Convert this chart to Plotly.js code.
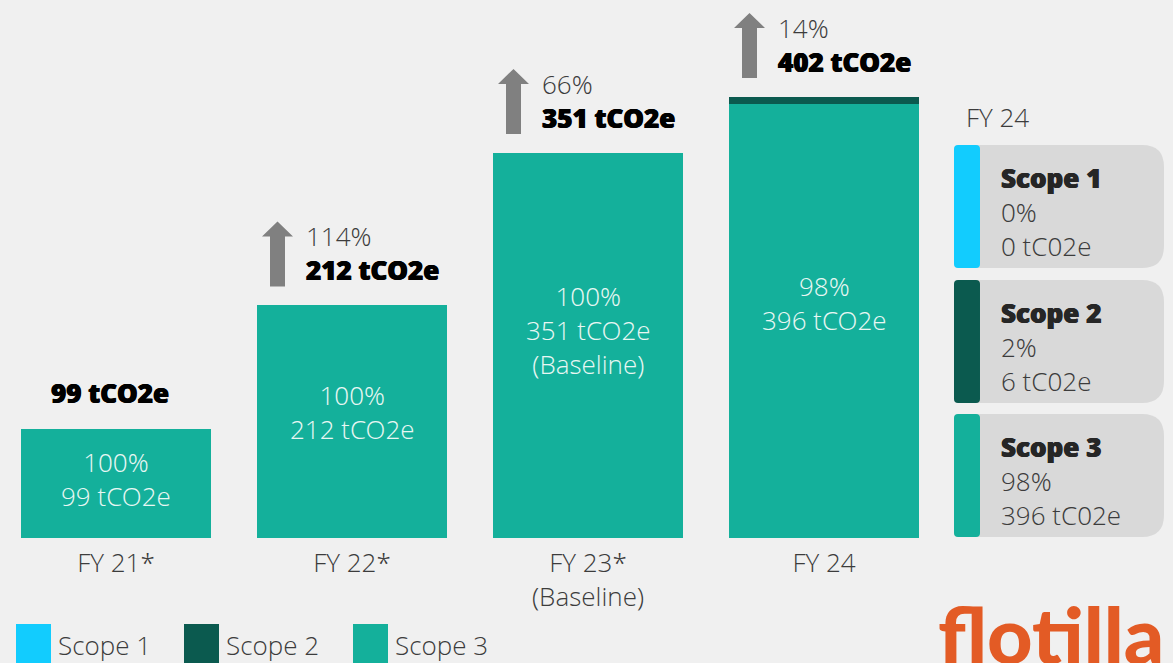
<!DOCTYPE html>
<html>
<head>
<meta charset="utf-8">
<script src="https://cdn.plot.ly/plotly-3.0.1.min.js"></script>
<style>
  html, body { margin: 0; padding: 0; background: #f0f0f0; }
  #chart { width: 1173px; height: 663px; }
</style>
</head>
<body>
<div id="chart"></div>
<script>
// ---------- data ----------
const categories = ['FY 21*', 'FY 22*', 'FY 23*', 'FY 24'];
const tickLabels = ['FY 21*', 'FY 22*', 'FY 23*<br>(Baseline)', 'FY 24'];
const scope1 = [0, 0, 0, 0];
const scope2 = [0, 0, 0, 6];
const scope3 = [99, 212, 351, 396];
const totals = [99, 212, 351, 402];
const scope3Share = ['100%', '100%', '100%', '98%'];
const barNotes = ['', '', '(Baseline)', ''];
const changePct = ['', '114%', '66%', '14%'];
const scopeNames = ['Scope 1', 'Scope 2', 'Scope 3'];
const fy24Label = 'FY 24';
const fy24Pct = ['0%', '2%', '98%'];
const fy24Values = [0, 6, 396];
const logoText = 'flotilla';

// ---------- styles ----------
const colors = ['#12ccfe', '#0b5a4f', '#14b09b'];
const BG = '#f0f0f0';
const GREY_TEXT = '#3c3c3c';
const FONT = 'Open Sans Light, Open Sans, Noto Sans, sans-serif';
const FONT_B = 'Open Sans, Noto Sans, sans-serif';
const LIGHT = 26;
const BOLD = 26;
const W = 1173, H = 663, PLOT_BOTTOM = 538;
const px2x = p => p / W;
const px2y = p => (PLOT_BOTTOM - p) / PLOT_BOTTOM;
const lightFont = (color) => ({ family: FONT, size: LIGHT, weight: 300, color: color || GREY_TEXT });
const boldFont = (color) => ({ family: FONT_B, size: BOLD, weight: 800, color: color || '#000000',
  shadow: '0.5px 0 0 ' + (color || '#000000') + ', -0.5px 0 0 ' + (color || '#000000') });
const boldSpan = (txt, color) =>
  '<span style="font-family:' + FONT_B + ';font-weight:800;fill:' + color +
  ';text-shadow:0.5px 0 0 ' + color + ',-0.5px 0 0 ' + color + '">' + txt + '</span>';

// ---------- traces (stack: scope 3 bottom, scope 2, scope 1) ----------
const seriesVals = [scope1, scope2, scope3];
const traces = [2, 1, 0].map(i => ({
  type: 'bar',
  name: scopeNames[i],
  x: categories,
  y: seriesVals[i],
  marker: { color: colors[i], line: { width: 0 } },
  showlegend: false,
  hoverinfo: 'x+y+name'
}));

const annotations = [];
const shapes = [];

// inside-bar labels
categories.forEach((c, i) => {
  let t = scope3Share[i] + '<br>' + scope3[i] + ' tCO2e';
  if (barNotes[i]) t += '<br>' + barNotes[i];
  annotations.push({
    x: c, y: scope3[i] * 0.54, xref: 'x', yref: 'y',
    text: t, showarrow: false, xanchor: 'center', yanchor: 'middle',
    font: lightFont('#e8f7f3')
  });
});

// totals, change labels, arrows
categories.forEach((c, i) => {
  const hasChange = !!changePct[i];
  if (hasChange) {
    annotations.push({
      x: c, y: totals[i], xref: 'x', yref: 'y',
      text: changePct[i] + '<br>' + boldSpan(totals[i] + ' tCO2e', '#000000'),
      showarrow: false, align: 'left',
      xanchor: 'left', yanchor: 'middle', xshift: -48, yshift: 52,
      font: lightFont()
    });
    shapes.push({
      type: 'path', xref: 'x', yref: 'y',
      xsizemode: 'pixel', ysizemode: 'pixel',
      xanchor: c, yanchor: totals[i],
      path: 'M-82,19 L-67,19 L-67,69 L-59,69 L-74.5,84 L-90,69 L-82,69 Z',
      fillcolor: '#808080', line: { width: 0 }
    });
  } else {
    annotations.push({
      x: c, y: totals[i], xref: 'x', yref: 'y',
      text: totals[i] + ' tCO2e', showarrow: false,
      xanchor: 'center', yanchor: 'middle', xshift: -6, yshift: 36,
      font: boldFont('#000000')
    });
  }
});

// ---------- right panel ----------
function roundRectPath(x0, y0, x1, y1, rl, rr) {
  const P = (x, y) => px2x(x).toFixed(5) + ',' + px2y(y).toFixed(5);
  return 'M' + P(x0 + rl, y0) +
    ' L' + P(x1 - rr, y0) + ' Q' + P(x1, y0) + ' ' + P(x1, y0 + rr) +
    ' L' + P(x1, y1 - rr) + ' Q' + P(x1, y1) + ' ' + P(x1 - rr, y1) +
    ' L' + P(x0 + rl, y1) + ' Q' + P(x0, y1) + ' ' + P(x0, y1 - rl) +
    ' L' + P(x0, y0 + rl) + ' Q' + P(x0, y0) + ' ' + P(x0 + rl, y0) + ' Z';
}
annotations.push({
  x: px2x(964), y: px2y(117), xref: 'paper', yref: 'paper',
  text: fy24Label, showarrow: false, xanchor: 'left', yanchor: 'middle',
  font: lightFont()
});
const cardTops = [145, 280, 414];
const CARD_H = 123;
scopeNames.forEach((name, i) => {
  const top = cardTops[i], bot = top + CARD_H;
  shapes.push({
    type: 'path', xref: 'paper', yref: 'paper', layer: 'above',
    path: roundRectPath(954, top, 1164, bot, 6, 22),
    fillcolor: '#d9d9d9', line: { width: 0 }
  });
  shapes.push({
    type: 'path', xref: 'paper', yref: 'paper', layer: 'above',
    path: roundRectPath(954, top, 980, bot, 4, 4),
    fillcolor: colors[i], line: { width: 0 }
  });
  annotations.push({
    x: px2x(999), y: px2y(top + 67), xref: 'paper', yref: 'paper',
    text: boldSpan(name, '#262626') + '<br>' + fy24Pct[i] + '<br>' + fy24Values[i] + ' tC02e',
    showarrow: false, xanchor: 'left', yanchor: 'middle', align: 'left',
    font: lightFont()
  });
});

// ---------- manual legend ----------
const legendSq = [16, 184, 353];
scopeNames.forEach((name, i) => {
  const x0 = legendSq[i];
  shapes.push({
    type: 'rect', xref: 'paper', yref: 'paper',
    x0: px2x(x0), x1: px2x(x0 + 35), y0: px2y(624), y1: px2y(670),
    fillcolor: colors[i], line: { width: 0 }
  });
  annotations.push({
    x: px2x(x0 + 40), y: px2y(645), xref: 'paper', yref: 'paper',
    text: name, showarrow: false, xanchor: 'left', yanchor: 'middle',
    font: lightFont()
  });
});

// ---------- logo ----------
annotations.push({
  x: px2x(936), y: px2y(584), xref: 'paper', yref: 'paper',
  text: logoText, showarrow: false, xanchor: 'left', yanchor: 'top',
  font: { family: 'Lato, Open Sans, sans-serif', size: 79, weight: 900, color: '#e35b25' }
});

const layout = {
  width: W, height: H,
  margin: { l: 0, r: 0, t: 0, b: H - PLOT_BOTTOM, pad: 0 },
  paper_bgcolor: BG, plot_bgcolor: BG,
  barmode: 'stack',
  bargap: 46 / 236,
  showlegend: false,
  xaxis: {
    type: 'category',
    domain: [0, 944 / W],
    range: [-0.5 + 2 / 236, 3.5 + 2 / 236],
    tickmode: 'array', tickvals: categories, ticktext: tickLabels,
    showgrid: false, zeroline: false, showline: false, ticks: '',
    ticklabelstandoff: 7,
    tickfont: lightFont(),
    fixedrange: true
  },
  yaxis: {
    range: [0, PLOT_BOTTOM / 1.097],
    visible: false, showgrid: false, zeroline: false, fixedrange: true
  },
  shapes: shapes,
  annotations: annotations,
  font: { family: FONT }
};

Plotly.newPlot('chart', traces, layout, { displayModeBar: false, staticPlot: true });
</script>
</body>
</html>
